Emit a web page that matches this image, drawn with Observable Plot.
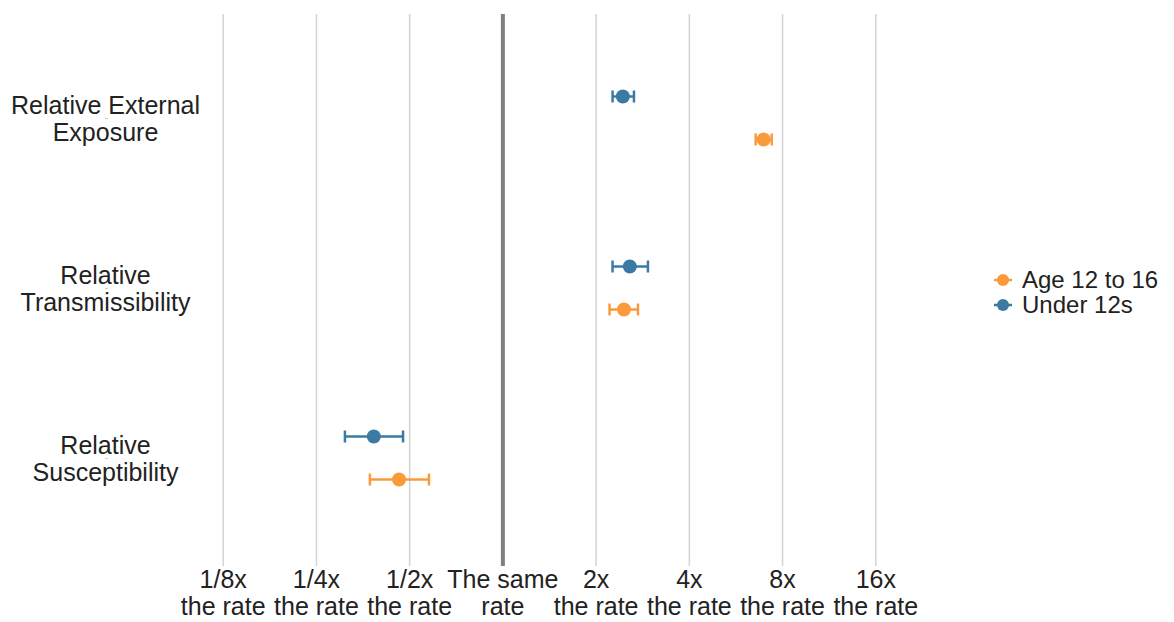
<!DOCTYPE html>
<html>
<head>
<meta charset="utf-8">
<script src="https://cdn.jsdelivr.net/npm/d3@7"></script>
<script src="https://cdn.jsdelivr.net/npm/@observablehq/plot@0.6"></script>
<style>
  html, body { margin: 0; padding: 0; background: #fff; }
  #wrap { position: relative; width: 1174px; height: 622px; font-family: "Liberation Sans", Arial, sans-serif; }
  #legend { position: absolute; left: 992px; top: 267px; font-size: 24px; color: #222; }
  .row { display: flex; align-items: center; height: 25px; }
  .row svg { margin-right: 8px; }
  .row span { line-height: 22px; white-space: nowrap; }
</style>
</head>
<body>
<div id="wrap"></div>
<script>
// ---- data ----
const categories = ["Relative External Exposure", "Relative Transmissibility", "Relative Susceptibility"];
const categoryLabels = ["Relative External\nExposure", "Relative\nTransmissibility", "Relative\nSusceptibility"];
const groups = ["Age 12 to 16", "Under 12s"];
const groupColors = ["#fb9a3a", "#3b7ba3"];

const under12Estimate = [2.44, 2.57, 0.383];
const under12Lower    = [2.26, 2.26, 0.309];
const under12Upper    = [2.65, 2.94, 0.476];

const age12to16Estimate = [6.95, 2.46, 0.462];
const age12to16Lower    = [6.55, 2.21, 0.372];
const age12to16Upper    = [7.38, 2.73, 0.577];

const xTicks = [1/8, 1/4, 1/2, 1, 2, 4, 8, 16];
const xTickLabels = ["1/8x\nthe rate", "1/4x\nthe rate", "1/2x\nthe rate", "The same\nrate",
                     "2x\nthe rate", "4x\nthe rate", "8x\nthe rate", "16x\nthe rate"];

// ---- build rows ----
const under12 = categories.map((c, i) => ({cat: c, group: "Under 12s", est: under12Estimate[i], lo: under12Lower[i], hi: under12Upper[i]}));
const age = categories.map((c, i) => ({cat: c, group: "Age 12 to 16", est: age12to16Estimate[i], lo: age12to16Lower[i], hi: age12to16Upper[i]}));

const capSymbol = {
  draw(context, size) {
    const h = Math.sqrt(size / Math.PI);
    context.moveTo(0, -h);
    context.lineTo(0, h);
  }
};

function series(data, dy) {
  return [
    Plot.ruleY(data, {y: "cat", x1: "lo", x2: "hi", stroke: "group", strokeWidth: 2.5, dy}),
    Plot.dot(data, {y: "cat", x: "lo", stroke: "group", symbol: capSymbol, r: 6, strokeWidth: 2.5, dy}),
    Plot.dot(data, {y: "cat", x: "hi", stroke: "group", symbol: capSymbol, r: 6, strokeWidth: 2.5, dy}),
    Plot.dot(data, {y: "cat", x: "est", fill: "group", r: 7, dy})
  ];
}

const lo2 = -3.19, hi2 = 4.19;

const chart = Plot.plot({
  width: 1174,
  height: 622,
  marginLeft: 205,
  marginRight: 281,
  marginTop: 14,
  marginBottom: 60,
  style: {fontFamily: "Liberation Sans, Arial, sans-serif", fontSize: "25px", color: "#222", background: "#fff"},
  x: {type: "log", base: 2, domain: [Math.pow(2, lo2), Math.pow(2, hi2)]},
  y: {type: "point", domain: categories, padding: 0.607},
  color: {domain: groups, range: groupColors},
  marks: [
    Plot.ruleX(xTicks.filter(d => d !== 1), {stroke: "#d4d4d4", strokeWidth: 1.5, insetBottom: -4}),
    Plot.ruleX([1], {stroke: "#808080", strokeWidth: 4, insetBottom: -4}),
    Plot.axisX({ticks: xTicks, tickFormat: d => xTickLabels[xTicks.indexOf(d)], tickSize: 0, tickPadding: 6,
                fontSize: 25, lineHeight: 1.08, fill: "#222", label: null}),
    Plot.axisY({tickFormat: d => categoryLabels[categories.indexOf(d)], tickSize: 3, stroke: "#ccc", tickPadding: 0,
                textAnchor: "middle", dx: -97, fontSize: 25, lineHeight: 1.08, fill: "#222", label: null}),
    ...series(under12, -22),
    ...series(age, 21)
  ]
});

const wrap = document.getElementById("wrap");
wrap.appendChild(chart);

// legend
const legend = document.createElement("div");
legend.id = "legend";
groups.forEach((g, i) => {
  const row = document.createElement("div");
  row.className = "row";
  const c = groupColors[i];
  row.innerHTML = `<svg width="22" height="16"><line x1="2" x2="20" y1="8" y2="8" stroke="${c}" stroke-width="2.5"/><circle cx="11" cy="8" r="6" fill="${c}"/></svg><span>${g}</span>`;
  legend.appendChild(row);
});
wrap.appendChild(legend);
</script>
</body>
</html>
